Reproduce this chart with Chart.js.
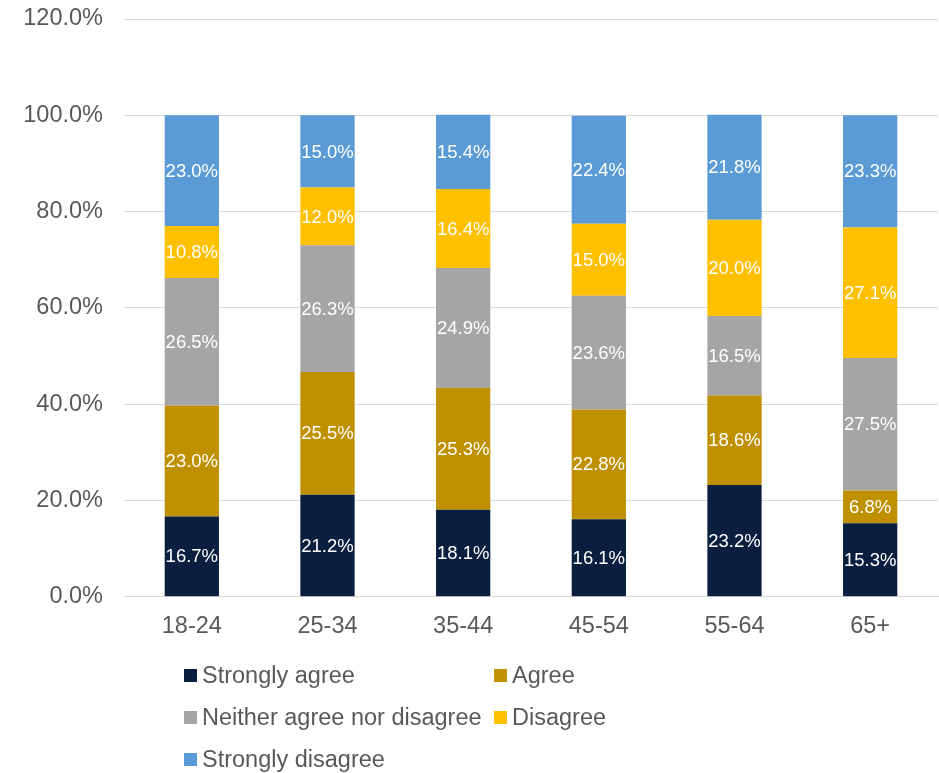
<!DOCTYPE html>
<html>
<head>
<meta charset="utf-8">
<script src="https://cdn.jsdelivr.net/npm/chart.js@4/dist/chart.umd.min.js"></script>
<style>
  body { margin: 0; background: #fff; }
  #wrap { position: relative; width: 939px; height: 773px; }
  #legend { position: absolute; left: 184px; top: 658px; width: 500px;
    font-family: Arial, "Liberation Sans", sans-serif; font-size: 23.5px; color: #595959; }
  .item { position: absolute; white-space: nowrap; line-height: 28px; }
  .item span.box { display: inline-block; width: 13px; height: 13px; margin-right: 5px; vertical-align: 1px; }
</style>
</head>
<body>
<div id="wrap">
  <canvas id="myChart" width="939" height="773"></canvas>
  <div id="legend"></div>
</div>
<script>
const ageGroups = ["18-24", "25-34", "35-44", "45-54", "55-64", "65+"];
const seriesNames = ["Strongly agree", "Agree", "Neither agree nor disagree", "Disagree", "Strongly disagree"];
const stronglyAgree = [16.7, 21.2, 18.1, 16.1, 23.2, 15.3];
const agree = [23.0, 25.5, 25.3, 22.8, 18.6, 6.8];
const neither = [26.5, 26.3, 24.9, 23.6, 16.5, 27.5];
const disagree = [10.8, 12.0, 16.4, 15.0, 20.0, 27.1];
const stronglyDisagree = [23.0, 15.0, 15.4, 22.4, 21.8, 23.3];
const colors = ["#0A1F3F", "#BF9000", "#A5A5A5", "#FFC000", "#5B9BD5"];

const allValues = [stronglyAgree, agree, neither, disagree, stronglyDisagree];

// white value labels in the middle of each segment
const barLabels = {
  id: "barLabels",
  afterDatasetsDraw(chart) {
    const ctx = chart.ctx;
    ctx.save();
    ctx.font = "18.5px Arial, 'Liberation Sans', sans-serif";
    ctx.fillStyle = "#ffffff";
    ctx.textAlign = "center";
    ctx.textBaseline = "middle";
    chart.data.datasets.forEach((ds, i) => {
      chart.getDatasetMeta(i).data.forEach((bar, j) => {
        const mid = (bar.y + bar.base) / 2;
        ctx.fillText(ds.data[j].toFixed(1) + "%", bar.x, mid + 1);
      });
    });
    ctx.restore();
  }
};

const ctx = document.getElementById("myChart");
new Chart(ctx, {
  type: "bar",
  data: {
    labels: ageGroups,
    datasets: seriesNames.map((name, i) => ({
      label: name,
      data: allValues[i],
      backgroundColor: colors[i],
      borderWidth: 0,
      categoryPercentage: 1,
      barPercentage: 0.4
    }))
  },
  options: {
    responsive: false,
    animation: false,
    layout: { padding: { top: 19, right: 1, bottom: 116, left: 0 } },
    plugins: { legend: { display: false }, tooltip: { enabled: false } },
    scales: {
      x: {
        stacked: true,
        grid: { display: false, drawTicks: false },
        border: { color: "#D9D9D9", width: 1 },
        ticks: { color: "#595959", padding: 16, font: { size: 23.5, family: "Arial, 'Liberation Sans', sans-serif" } }
      },
      y: {
        stacked: true,
        min: 0,
        max: 120,
        afterFit: scale => {
          scale.width = 124;
          scale.paddingTop = 0;
          scale.paddingBottom = 0;
        },
        grid: { color: "#D9D9D9", lineWidth: 1, drawTicks: false },
        border: { display: false },
        ticks: {
          stepSize: 20,
          padding: 21,
          color: "#595959",
          font: { size: 23.5, family: "Arial, 'Liberation Sans', sans-serif" },
          callback: v => v.toFixed(1) + "%"
        }
      }
    }
  },
  plugins: [barLabels]
});

// legend laid out in two columns like the original
const legend = document.getElementById("legend");
seriesNames.forEach((name, i) => {
  const el = document.createElement("div");
  el.className = "item";
  el.style.left = (i % 2 === 0 ? 0 : 310) + "px";
  el.style.top = (Math.floor(i / 2) * 42 + 3) + "px";
  el.innerHTML = '<span class="box" style="background:' + colors[i] + '"></span>' + name;
  legend.appendChild(el);
});
</script>
</body>
</html>
